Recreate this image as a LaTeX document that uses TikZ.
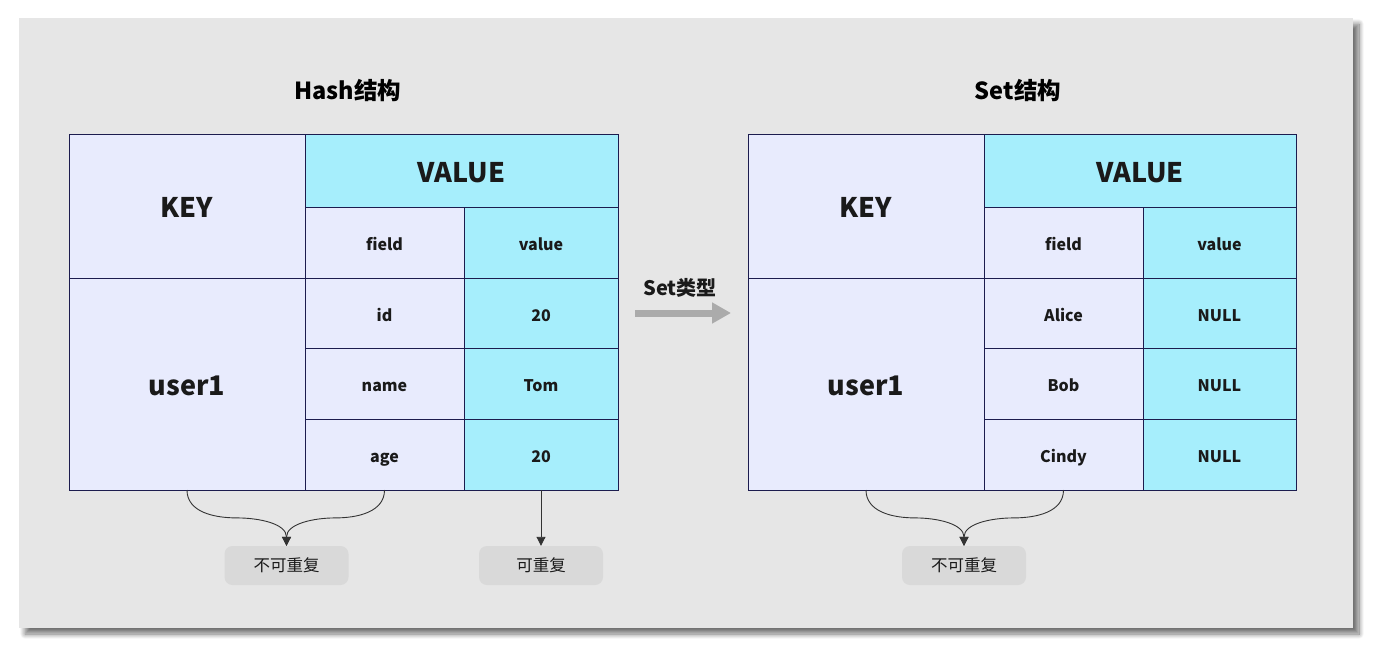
\documentclass[tikz,border=0pt]{standalone}
\usepackage{fontspec}
\setmainfont{Noto Sans CJK SC}
\usetikzlibrary{arrows.meta,shadows.blur,calc}
\definecolor{lav}{HTML}{E8EBFD}
\definecolor{cyanc}{HTML}{A6EEFC}
\definecolor{panel}{HTML}{E6E6E6}
\definecolor{bordc}{HTML}{1C1C4E}
\definecolor{txt}{HTML}{1A1A1A}
\definecolor{lblc}{HTML}{D9D9D9}
\definecolor{conc}{HTML}{333333}
\newcommand\mycell[8]{% name, cx, cy, w, h, fill, style, text
  \node[cellbox, fill=#6, minimum width=#4pt, minimum height=#5pt, #7] (#1) at (#2,#3) {#8};}
\begin{document}
\begin{tikzpicture}[x=1pt,y=-1pt,
  cellbox/.style={draw=bordc, line width=0.9pt, inner sep=0pt, outer sep=0pt, text=txt},
  bigt/.style={font=\bfseries\fontsize{27}{32}\selectfont, text height=23.5pt, text depth=0pt},
  smallt/.style={font=\bfseries\fontsize{16}{19}\selectfont, text height=16.4pt, text depth=0pt},
  lblbox/.style={fill=lblc, rounded corners=8pt, minimum width=124pt, minimum height=39pt, inner sep=0pt, text=txt, text height=13pt, text depth=1.5pt, font=\fontsize{16.5}{19}\selectfont},
  conn/.style={draw=conc, line width=0.9pt, -{Triangle[width=9pt,length=9pt]}},
  title/.style={text=black, font=\bfseries\fontsize{23.5}{27}\selectfont}
]
\useasboundingbox (0,0) rectangle (1373,648);
\path[fill=panel, blur shadow={shadow xshift=6pt, shadow yshift=-6pt, shadow blur steps=12, shadow blur radius=5pt, shadow opacity=55}] (19,18) rectangle (1353,628);

% left table
\mycell{Lkey}{187}{206}{236}{144}{lav}{bigt}{KEY}
\mycell{Lval}{461.5}{170.5}{313}{73}{cyanc}{bigt}{VALUE}
\mycell{Lfh}{384.5}{242.5}{159}{71}{lav}{smallt}{field}
\mycell{Lvh}{541}{242.5}{154}{71}{cyanc}{smallt}{value}
\mycell{Lf1}{384.5}{313}{159}{70}{lav}{smallt}{id}
\mycell{Lv1}{541}{313}{154}{70}{cyanc}{smallt}{20}
\mycell{Lf2}{384.5}{383.5}{159}{71}{lav}{smallt}{name}
\mycell{Lv2}{541}{383.5}{154}{71}{cyanc}{smallt}{Tom}
\mycell{Lf3}{384.5}{454.5}{159}{71}{lav}{smallt}{age}
\mycell{Lv3}{541}{454.5}{154}{71}{cyanc}{smallt}{20}
\mycell{Luser}{187}{384}{236}{212}{lav}{bigt}{user1}

% right table
\mycell{Rkey}{866}{206}{236}{144}{lav}{bigt}{KEY}
\mycell{Rval}{1140}{170.5}{312}{73}{cyanc}{bigt}{VALUE}
\mycell{Rfh}{1063.5}{242.5}{159}{71}{lav}{smallt}{field}
\mycell{Rvh}{1219.5}{242.5}{153}{71}{cyanc}{smallt}{value}
\mycell{Rf1}{1063.5}{313}{159}{70}{lav}{smallt}{Alice}
\mycell{Rv1}{1219.5}{313}{153}{70}{cyanc}{smallt}{NULL}
\mycell{Rf2}{1063.5}{383.5}{159}{71}{lav}{smallt}{Bob}
\mycell{Rv2}{1219.5}{383.5}{153}{71}{cyanc}{smallt}{NULL}
\mycell{Rf3}{1063.5}{454.5}{159}{71}{lav}{smallt}{Cindy}
\mycell{Rv3}{1219.5}{454.5}{153}{71}{cyanc}{smallt}{NULL}
\mycell{Ruser}{866}{384}{236}{212}{lav}{bigt}{user1}

% titles
\node[title] (t1) at (348,91) {Hash结构};
\node[title] (t2) at (1018,91) {Set结构};

% middle arrow
\node[text=txt, font=\bfseries\fontsize{20}{24}\selectfont] (mid) at (680,288) {Set类型};
\coordinate (ma) at (635,313);
\coordinate (mb) at (731,313);
\draw[draw=black!33, line width=7pt, -{Triangle[width=20pt,length=19pt]}] (ma) -- (mb);

% labels
\node[lblbox] (l1) at (286.5,565.5) {不可重复};
\node[lblbox] (l2) at (541,565.5) {可重复};
\node[lblbox] (l3) at (964,565.5) {不可重复};

% connectors
\draw[conn] (Luser.south) to[out=-90,in=180] ($(Luser.south)!.5!(l1.north)$) to[out=0,in=90] (l1.north);
\draw[conn] (Lf3.south) to[out=-90,in=0] ($(Lf3.south)!.5!(l1.north)$) to[out=180,in=90] (l1.north);
\draw[conn] (Lv3.south) -- (l2.north);
\draw[conn] (Ruser.south) to[out=-90,in=180] ($(Ruser.south)!.5!(l3.north)$) to[out=0,in=90] (l3.north);
\draw[conn] (Rf3.south) to[out=-90,in=0] ($(Rf3.south)!.5!(l3.north)$) to[out=180,in=90] (l3.north);
\end{tikzpicture}
\end{document}
